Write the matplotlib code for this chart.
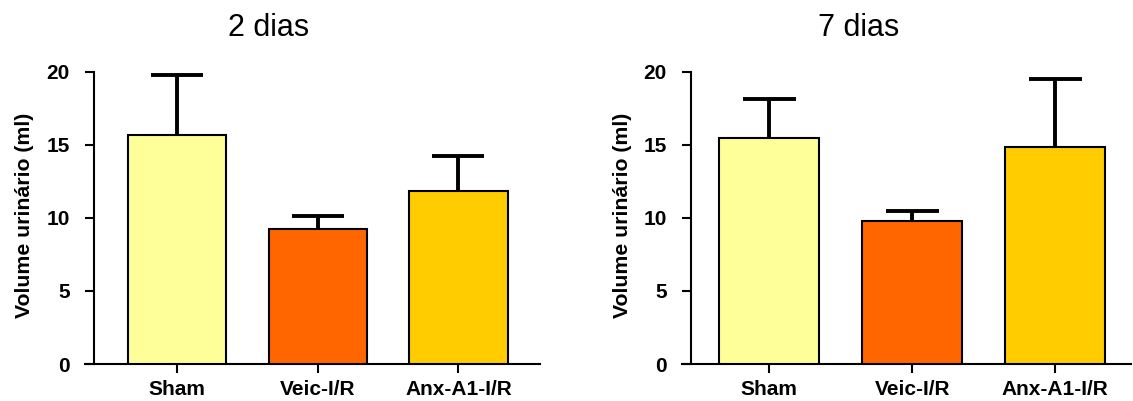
import matplotlib.pyplot as plt
import numpy as np

plt.rcParams['font.family'] = ['Liberation Sans', 'DejaVu Sans']

groups = ['Sham', 'Veic-I/R', 'Anx-A1-I/R']
colors = ['#FFFF99', '#FF6600', '#FFCC00']

mean_2d = [15.66, 9.25, 11.85]
err_2d = [4.10, 0.89, 2.37]
mean_7d = [15.47, 9.78, 14.84]
err_7d = [2.65, 0.70, 4.66]

titles = ['2 dias', '7 dias']
yticks = [0, 5, 10, 15, 20]


def panel(ax, means, errs, xlim, yaxis_at):
    x = np.arange(len(groups))
    means = np.array(means)
    tops = means + np.array(errs)
    ax.bar(x, means, width=0.70, color=colors, edgecolor='black', linewidth=1.5, zorder=3)
    # upper error bar only (SEM)
    ax.vlines(x, means, tops, color='black', linewidth=2.8, zorder=2)
    ax.hlines(tops, x - 0.185, x + 0.185, color='black', linewidth=2.8, zorder=2)
    ax.set_xlim(*xlim)
    ax.set_ylim(0, 20)
    ax.spines['top'].set_visible(False)
    ax.spines['right'].set_visible(False)
    ax.spines['left'].set_position(('data', yaxis_at))
    ax.spines['left'].set_linewidth(1.5)
    ax.spines['bottom'].set_linewidth(1.5)
    ax.set_xticks(x)
    ax.set_xticklabels(groups, fontsize=15, fontweight='bold')
    ax.set_yticks(yticks)
    ax.set_yticklabels([str(t) for t in yticks], fontsize=15, fontweight='bold')
    ax.tick_params(axis='y', length=6.5, width=1.5, pad=11)
    ax.tick_params(axis='x', length=6.5, width=1.5, pad=5)


fig = plt.figure(figsize=(11.33, 4.01), dpi=100)
ax1 = fig.add_axes([85 / 1133, 37 / 401, 455 / 1133, 292.5 / 401])
ax2 = fig.add_axes([682 / 1133, 37 / 401, 449 / 1133, 292.5 / 401])

panel(ax1, mean_2d, err_2d, (-0.655, 2.58), -0.59)
panel(ax2, mean_7d, err_7d, (-0.61, 2.53), -0.545)

fig.text(269 / 1133, 1 - 28 / 401, titles[0], fontsize=22, ha='center', va='center')
fig.text(859 / 1133, 1 - 28 / 401, titles[1], fontsize=22, ha='center', va='center')

for xc in (25, 622):
    fig.text(xc / 1133, 1 - 215 / 401, 'Volume urinário (ml)', rotation=90, fontsize=15.3,
             fontweight='bold', ha='center', va='center')

fig.savefig('out.png', dpi=100)
